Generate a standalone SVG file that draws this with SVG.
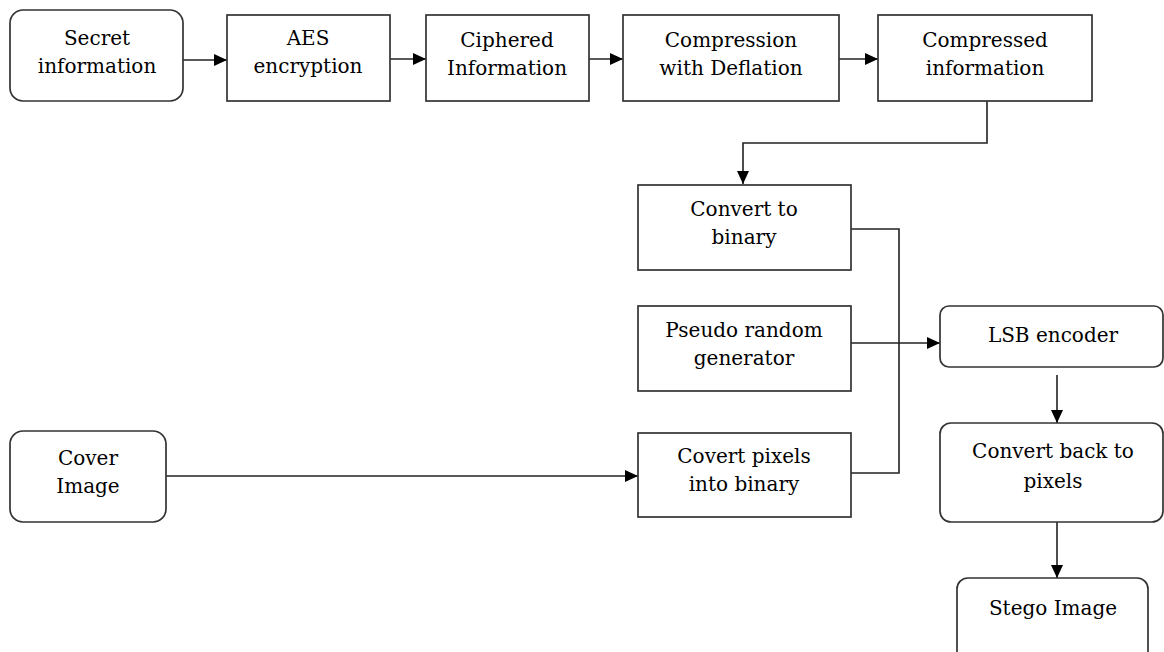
<svg xmlns="http://www.w3.org/2000/svg" width="1164" height="652" viewBox="0 0 1164 652">
  <defs>
    <marker id="arrow" viewBox="0 0 13 12" refX="13" refY="6" markerWidth="13" markerHeight="12" markerUnits="userSpaceOnUse" orient="auto">
      <path d="M0,0 L13,6 L0,12 Z" fill="#000"/>
    </marker>
    <style>
      .box { fill: #fff; stroke: #333; stroke-width: 1.7; }
      .lbl { font-family: "DejaVu Serif", "Liberation Serif", serif; font-size: 20px; fill: #000; text-anchor: middle; }
      .wire { fill: none; stroke: #222; stroke-width: 1.6; }
    </style>
  </defs>
  <rect width="1164" height="652" fill="#fff"/>

  <g id="connectors">
    <line class="wire" x1="183" y1="60" x2="227" y2="60" marker-end="url(#arrow)"/>
    <line class="wire" x1="390" y1="59" x2="426" y2="59" marker-end="url(#arrow)"/>
    <line class="wire" x1="589" y1="59" x2="623" y2="59" marker-end="url(#arrow)"/>
    <line class="wire" x1="839" y1="59" x2="878" y2="59" marker-end="url(#arrow)"/>
    <polyline class="wire" points="987,101 987,143 743,143 743,184" marker-end="url(#arrow)"/>
    <polyline class="wire" points="851,229 899,229 899,473 851,473"/>
    <line class="wire" x1="851" y1="343" x2="940" y2="343" marker-end="url(#arrow)"/>
    <line class="wire" x1="166" y1="476" x2="638" y2="476" marker-end="url(#arrow)"/>
    <line class="wire" x1="1057" y1="375" x2="1057" y2="423" marker-end="url(#arrow)"/>
    <line class="wire" x1="1057" y1="522" x2="1057" y2="578" marker-end="url(#arrow)"/>
  </g>

  <g id="secret-information">
    <rect class="box" x="10" y="10" width="173" height="91" rx="13"/>
    <text class="lbl" x="97" y="45">Secret</text>
    <text class="lbl" x="97" y="73">information</text>
  </g>
  <g id="aes-encryption">
    <rect class="box" x="227" y="15" width="163" height="86"/>
    <text class="lbl" x="308" y="45">AES</text>
    <text class="lbl" x="308" y="73">encryption</text>
  </g>
  <g id="ciphered-information">
    <rect class="box" x="426" y="15" width="163" height="86"/>
    <text class="lbl" x="507" y="47">Ciphered</text>
    <text class="lbl" x="507" y="75">Information</text>
  </g>
  <g id="compression-deflation">
    <rect class="box" x="623" y="15" width="216" height="86"/>
    <text class="lbl" x="731" y="47">Compression</text>
    <text class="lbl" x="731" y="75">with Deflation</text>
  </g>
  <g id="compressed-information">
    <rect class="box" x="878" y="15" width="214" height="86"/>
    <text class="lbl" x="985" y="47">Compressed</text>
    <text class="lbl" x="985" y="75">information</text>
  </g>
  <g id="convert-to-binary">
    <rect class="box" x="638" y="185" width="213" height="85"/>
    <text class="lbl" x="744" y="216">Convert to</text>
    <text class="lbl" x="744" y="244">binary</text>
  </g>
  <g id="pseudo-random-generator">
    <rect class="box" x="638" y="306" width="213" height="85"/>
    <text class="lbl" x="744" y="337">Pseudo random</text>
    <text class="lbl" x="744" y="365">generator</text>
  </g>
  <g id="cover-image">
    <rect class="box" x="10" y="431" width="156" height="91" rx="13"/>
    <text class="lbl" x="88" y="465">Cover</text>
    <text class="lbl" x="88" y="493">Image</text>
  </g>
  <g id="covert-pixels">
    <rect class="box" x="638" y="433" width="213" height="84"/>
    <text class="lbl" x="744" y="463">Covert pixels</text>
    <text class="lbl" x="744" y="491">into binary</text>
  </g>
  <g id="lsb-encoder">
    <rect class="box" x="940" y="306" width="223" height="61" rx="9"/>
    <text class="lbl" x="1053" y="342">LSB encoder</text>
  </g>
  <g id="convert-back">
    <rect class="box" x="940" y="423" width="223" height="99" rx="11"/>
    <text class="lbl" x="1053" y="458">Convert back to</text>
    <text class="lbl" x="1053" y="488">pixels</text>
  </g>
  <g id="stego-image">
    <rect class="box" x="957" y="578" width="191" height="90" rx="11"/>
    <text class="lbl" x="1053" y="615">Stego Image</text>
  </g>
</svg>
